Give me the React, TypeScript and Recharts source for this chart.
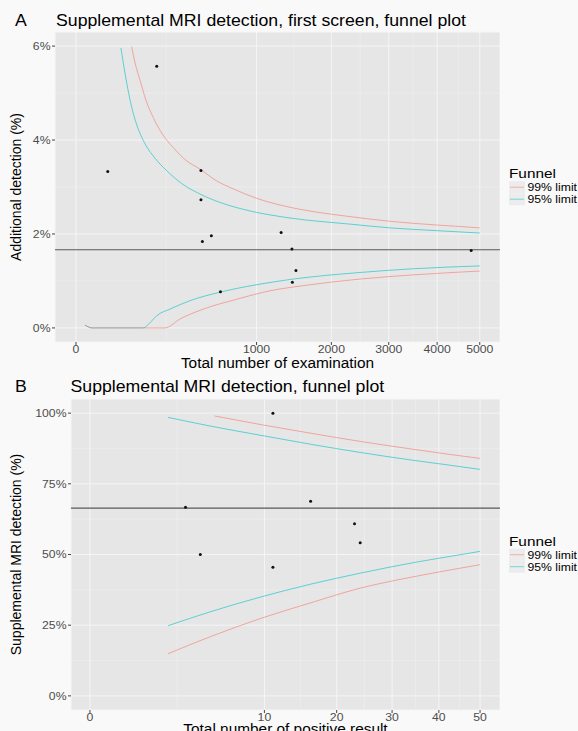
import React from 'react'
import { ComposedChart, Line, Scatter, XAxis, YAxis, CartesianGrid, ReferenceLine } from 'recharts'

const FONT = '"Liberation Sans", Arial, Helvetica, sans-serif'
const RED = '#F8766D'
const TEAL = '#00BFC4'
const PANEL_BG = '#e6e6e6'
const SX = 1.12 // source text looks a little wide and short

// ── Panel A: first screen, per examination ──────────────────────
const xTicksA = [0, 1000, 2000, 3000, 4000, 5000]
const xMinorA = [250, 1457, 2475, 3482, 4486]
const yTicksA = [0, 2, 4, 6]
const yMinorA = [1, 3, 5]
const meanA = 1.665
const pointsA = [
  [31, 3.33], [200, 5.57], [479, 3.35], [479, 2.73], [490, 1.84], [562, 1.96],
  [640, 0.77], [1291, 2.03], [1430, 1.68], [1436, 0.97], [1484, 1.22], [4790, 1.65],
]
const upper99A = [[95, 5.99], [108, 5.62], [126, 5.27], [150, 4.85], [183, 4.48], [230, 4.12], [290, 3.84], [370, 3.57], [472, 3.38], [600, 3.14], [759, 2.96], [1000, 2.76], [1318, 2.6], [1800, 2.46], [2302, 2.37], [3024, 2.27], [4000, 2.19], [5000, 2.13]]
const upper95A = [[62, 5.96], [74, 5.41], [85, 5.0], [101, 4.56], [118, 4.25], [139, 3.99], [190, 3.62], [252, 3.35], [340, 3.08], [472, 2.85], [650, 2.66], [929, 2.49], [1405, 2.34], [2302, 2.21], [3024, 2.13], [4000, 2.07], [5000, 2.02]]
const lower95A = [[2.5, 0.06], [8, 0], [139, 0], [170, 0.12], [200, 0.26], [271, 0.4], [399, 0.58], [636, 0.76], [1001, 0.92], [1448, 1.04], [2474, 1.18], [3500, 1.26], [5000, 1.32]]
const lower99A = [[2.5, 0.06], [8, 0], [243, 0], [332, 0.19], [497, 0.4], [792, 0.61], [1154, 0.79], [1584, 0.9], [2474, 1.04], [3500, 1.13], [5000, 1.21]]

// ── Panel B: per positive result ────────────────────────────────
const xTicksB = [0, 10, 20, 30, 40, 50]
const xMinorB = [2.5, 14.57, 24.75, 34.82, 44.86]
const yTicksB = [0, 25, 50, 75, 100]
const yMinorB = [12.5, 37.5, 62.5, 87.5]
const meanB = 66.4
const pointsB = [[3, 66.7], [4, 50], [11, 100], [11, 45.5], [16, 68.8], [23, 60.9], [24, 54.2]]
const upper99B = [[5.1, 99.0], [9.5, 96.0], [16, 92.9], [24, 90.0], [34, 87.3], [42.5, 85.4], [50, 84.0]]
const upper95B = [[2, 98.5], [4.8, 95.4], [9.5, 92.2], [16, 89.0], [24, 86.1], [34, 83.4], [42.5, 81.6], [50, 80.1]]
const lower95B = [[2, 24.8], [4.8, 29.8], [9.5, 34.9], [16, 39.5], [24, 43.4], [34, 47.0], [42.5, 49.3], [50, 51.1]]
const lower99B = [[2, 14.9], [4.8, 21.0], [9.5, 27.3], [16, 32.9], [24, 38.1], [34, 42.0], [42.5, 44.5], [50, 46.4]]

const legendLabels = ['99% limit', '95% limit']
const legendColors = [RED, TEAL]

const toXY = (rows: number[][]) => rows.map(([x, y]) => ({ x, y }))

const Dot = (props: any) => <circle cx={props.cx} cy={props.cy} r={1.5} fill="#111" />

const XTick = ({ x, y, payload }: any) => (
  <text transform={`translate(${x},${y}) scale(${SX},1)`} textAnchor="middle" dy="0.71em"
    fontSize={10.9} fill="#4d4d4d" fontFamily={FONT}>{payload.value}</text>
)
const YTick = ({ x, y, payload }: any) => (
  <text transform={`translate(${x},${y}) scale(${SX},1)`} textAnchor="end" dy="0.355em"
    fontSize={10.9} fill="#4d4d4d" fontFamily={FONT}>{`${payload.value}%`}</text>
)

// titles, axis titles and legend text
const T = ({ x, y, size, children, anchor = 'start', rotate = false }: any) => (
  <text transform={rotate ? `translate(${x},${y}) rotate(-90)` : `translate(${x},${y}) scale(${SX},1)`}
    textAnchor={anchor} fontSize={size} fill="#000" fontFamily={FONT}>{children}</text>
)

const FunnelLegend = ({ cy }: { cy: number }) => (
  <g>
    <T x={509} y={cy - 8.7} size={13.7}>Funnel</T>
    {legendLabels.map((lab, i) => {
      const rowTop = cy - 5.8 + i * 12
      return (
        <g key={lab}>
          <rect x={509} y={rowTop} width={16} height={12} fill="#ececec" />
          <line x1={510} x2={524} y1={rowTop + 6} y2={rowTop + 6} stroke={legendColors[i]} strokeOpacity={0.5} strokeWidth={1} />
          <T x={527.5} y={rowTop + 9.9} size={10.9}>{lab}</T>
        </g>
      )
    })}
  </g>
)

interface PanelProps {
  top: number
  marginTop: number
  yAxisWidth: number
  xAxisHeight: number
  xDomain: number[]
  xTicks: number[]
  xMinor: number[]
  yDomain: number[]
  yTicks: number[]
  yMinor: number[]
  mean: number
  points: number[][]
  up99: number[][]
  up95: number[][]
  lo95: number[][]
  lo99: number[][]
}

function FunnelPanel(p: PanelProps) {
  const curve = (rows: number[][], color: string, key: string) => (
    <Line key={key} data={toXY(rows)} dataKey="y" type="monotone" stroke={color} strokeOpacity={0.6}
      strokeWidth={1} dot={false} activeDot={false} isAnimationActive={false} />
  )
  return (
    <div style={{ position: 'absolute', left: 0, top: p.top }}>
      <ComposedChart width={500} height={360} margin={{ top: p.marginTop, right: 0, bottom: 0, left: 0 }}>
        <CartesianGrid fill={PANEL_BG} fillOpacity={1} stroke="#f5f5f5" strokeWidth={1} />
        <XAxis type="number" dataKey="x" scale="sqrt" domain={p.xDomain} ticks={p.xTicks} interval={0}
          allowDataOverflow height={p.xAxisHeight} axisLine={false} tickLine={{ stroke: '#444' }}
          tickSize={3} tickMargin={0} tick={<XTick />} />
        <YAxis type="number" dataKey="y" domain={p.yDomain} ticks={p.yTicks} interval={0}
          allowDataOverflow width={p.yAxisWidth} axisLine={false} tickLine={{ stroke: '#444' }}
          tickSize={3} tickMargin={1.5} tick={<YTick />} />
        {p.xMinor.map(v => <ReferenceLine key={'mx' + v} x={v} stroke="#f0f0f0" strokeWidth={0.5} />)}
        {p.yMinor.map(v => <ReferenceLine key={'my' + v} y={v} stroke="#f0f0f0" strokeWidth={0.5} />)}
        <ReferenceLine y={p.mean} stroke="#595959" strokeWidth={1.1} />
        {curve(p.up99, RED, 'u99')}
        {curve(p.up95, TEAL, 'u95')}
        {curve(p.lo95, TEAL, 'l95')}
        {curve(p.lo99, RED, 'l99')}
        <Scatter data={toXY(p.points)} dataKey="y" shape={Dot} isAnimationActive={false} />
      </ComposedChart>
    </div>
  )
}

export default function App() {
  return (
    <div style={{ position: 'absolute', left: 0, top: 0, width: 578, height: 731, overflow: 'hidden', background: '#f9f9f9', fontFamily: FONT }}>
      <FunnelPanel top={0} marginTop={32} yAxisWidth={55} xAxisHeight={18}
        xDomain={[-13.5, 5514]} xTicks={xTicksA} xMinor={xMinorA}
        yDomain={[-0.3, 6.3]} yTicks={yTicksA} yMinor={yMinorA} mean={meanA}
        points={pointsA} up99={upper99A} up95={upper95A} lo95={lower95A} lo99={lower99A} />
      <FunnelPanel top={370} marginTop={29} yAxisWidth={71} xAxisHeight={20}
        xDomain={[-0.118, 55.25]} xTicks={xTicksB} xMinor={xMinorB}
        yDomain={[-5, 105]} yTicks={yTicksB} yMinor={yMinorB} mean={meanB}
        points={pointsB} up99={upper99B} up95={upper95B} lo95={lower95B} lo99={lower99B} />
      <svg width={578} height={731} style={{ position: 'absolute', left: 0, top: 0, pointerEvents: 'none' }}>
        <T x={15} y={26} size={15.8}>A</T>
        <T x={56} y={26} size={15.8}>Supplemental MRI detection, first screen, funnel plot</T>
        <T x={21} y={187} size={14} anchor="middle" rotate>Additional detection (%)</T>
        <T x={277.5} y={368} size={13.75} anchor="middle">Total number of examination</T>
        <FunnelLegend cy={187} />

        <T x={15} y={392} size={15.8}>B</T>
        <T x={70.5} y={392} size={15.8}>Supplemental MRI detection, funnel plot</T>
        <T x={21} y={554.5} size={14} anchor="middle" rotate>Supplemental MRI detection (%)</T>
        <T x={285.5} y={734} size={13.75} anchor="middle">Total number of positive result</T>
        <FunnelLegend cy={554.5} />
      </svg>
    </div>
  )
}
